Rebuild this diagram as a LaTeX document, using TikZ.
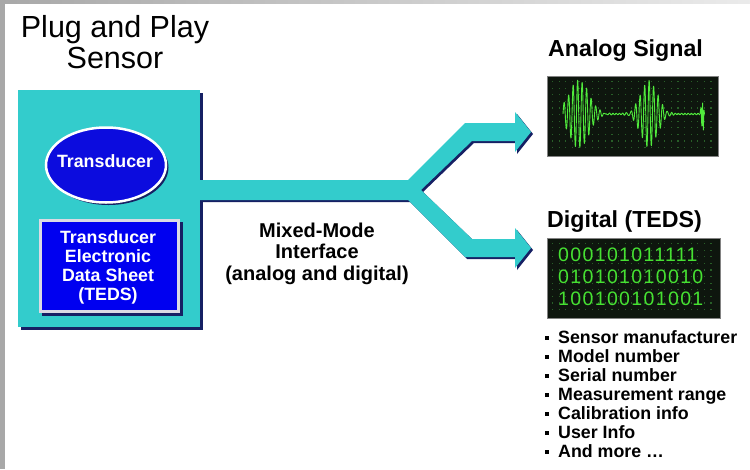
\documentclass[tikz,border=0pt]{standalone}
\usepackage{fontspec}
\setmainfont{Liberation Sans}
\usetikzlibrary{shapes.geometric}
\definecolor{tealc}{RGB}{51,204,204}
\definecolor{navyc}{RGB}{22,32,100}
\definecolor{eblue}{RGB}{12,12,222}
\definecolor{tblue}{RGB}{0,0,240}
\definecolor{tgray}{RGB}{218,218,228}
\definecolor{scr}{RGB}{14,22,14}
\definecolor{scrb}{RGB}{130,130,130}
\definecolor{dotg}{RGB}{40,95,40}
\definecolor{wave}{RGB}{80,235,60}
\definecolor{digc}{RGB}{70,225,50}
\definecolor{stripc}{RGB}{168,168,168}
\begin{document}
\begin{tikzpicture}[x=1pt,y=-1pt,
  shadowedthin/.style={preaction={fill=navyc, transform canvas={shift={(2pt,-2pt)}}}},
  titletext/.style={font=\fontsize{30.5}{32}\selectfont, inner sep=0pt},
  headtext/.style={font=\bfseries\fontsize{23.2}{26}\selectfont, inner sep=0pt},
  whitelab/.style={font=\bfseries\fontsize{17.8}{20}\selectfont, text=white, inner sep=0pt},
  mixtext/.style={font=\bfseries\fontsize{20}{22}\selectfont, inner sep=0pt},
  bullettext/.style={font=\bfseries\fontsize{17.8}{20}\selectfont, inner sep=0pt},
  digittext/.style={font=\fontsize{19.5}{22}\selectfont\addfontfeature{LetterSpace=7}, text=digc, inner sep=0pt},
  screen/.style={fill=scr, draw=scrb, line width=1pt}
]
\useasboundingbox (0,0) rectangle (750,469);
\fill[white] (0,0) rectangle (750,469);
\shade[left color=stripc, right color=black!8] (0,0) rectangle (750,3);
\fill[stripc] (0,0) rectangle (5,469);

% title
\node[titletext, anchor=base] (title1) at (115,37) {Plug and Play};
\node[titletext, anchor=base] (title2) at (115,68) {Sensor};

% sensor box
\fill[navyc] (21,93) rectangle (203,330);
\fill[tealc] (18,90) rectangle (200,327);

% channel
\fill[tealc, shadowedthin] (200,180) -- (408,180) -- (465,123) -- (515,123) -- (515,112) -- (531,132)
  -- (515,152) -- (515,141) -- (472,141) -- (421,190) -- (472,239) -- (515,239) -- (515,228)
  -- (531,248) -- (515,268) -- (515,257) -- (465,257) -- (408,200) -- (200,200) -- cycle;

% transducer ellipse
\node[ellipse, fill=eblue, draw=white, line width=2.5pt, minimum width=120pt, minimum height=75pt,
  inner sep=0pt, preaction={fill=navyc, transform canvas={shift={(2.5pt,-2.5pt)}}}] (transducer) at (106,165) {};
\node[whitelab, anchor=base] (transducerlab) at (105,167) {Transducer};

% TEDS box
\node[rectangle, fill=tblue, draw=tgray, line width=3pt, minimum width=138pt, minimum height=91pt,
  inner sep=0pt, preaction={fill=navyc, draw=navyc, transform canvas={shift={(3pt,-3pt)}}}] (teds) at (109.5,266) {};
\node[whitelab, anchor=base] (teds1) at (108,243) {Transducer};
\node[whitelab, anchor=base] (teds2) at (108,262) {Electronic};
\node[whitelab, anchor=base] (teds3) at (108,281) {Data Sheet};
\node[whitelab, anchor=base] (teds4) at (108,300) {(TEDS)};

% mixed mode text
\node[mixtext, anchor=base] (mix1) at (317,237) {Mixed-Mode};
\node[mixtext, anchor=base] (mix2) at (317,258.5) {Interface};
\node[mixtext, anchor=base] (mix3) at (317,280) {(analog and digital)};

% analog
\node[headtext, anchor=base west] (analoghead) at (548,56) {Analog Signal};
\draw[screen] (547,76) rectangle (718,156);
\foreach \x in {552,558.6,...,714} \foreach \y in {81,87.6,...,153} \fill[dotg] (\x,\y) rectangle ++(1.1,1.1);
\draw[wave, line width=0.9pt, line join=round] plot[domain=563:700, samples=800]
  (\x, {114 - 34*exp(-min(((\x-579)/14)^2,9))*sin((\x-563)*80) - 33*exp(-min(((\x-649)/12)^2,9))*sin((\x-563)*80+40) - 0.7*sin((\x-563)*110)});
\draw[wave, line width=0.9pt, line join=round] (700,114) -- (701,107) -- (701.8,126) -- (702.6,103) -- (703.3,130) -- (704,110) -- (704.5,114);

% digital
\node[headtext, anchor=base west] (digitalhead) at (547,227) {Digital (TEDS)};
\draw[screen] (547,238) rectangle (720,318);
\foreach \x in {552,558.6,...,716} \foreach \y in {243,249.6,...,315} \fill[dotg] (\x,\y) rectangle ++(1.1,1.1);
\node[digittext, anchor=base west] (row1) at (558,261) {000101011111};
\node[digittext, anchor=base west] (row2) at (558,283) {010101010010};
\node[digittext, anchor=base west] (row3) at (558,305) {100100101001};

% bullet list
\foreach \t [count=\i] in {{Sensor manufacturer}, {Model number}, {Serial number}, {Measurement range}, {Calibration info}, {User Info}, {And more \ldots}} {
  \node[bullettext, anchor=base west] (item\i) at (558, {343+19.05*(\i-1)}) {\t};
  \fill[black] (545, {343+19.05*(\i-1)-7}) rectangle ++(3.5,3.5);
}
\end{tikzpicture}
\end{document}
